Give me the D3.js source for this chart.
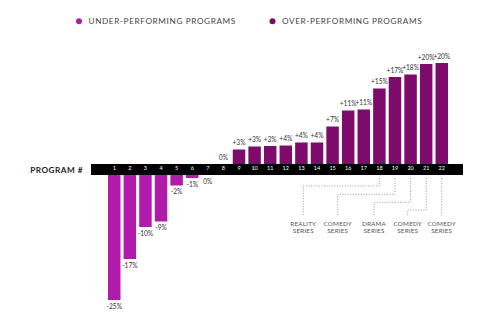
<!DOCTYPE html>
<html><head><meta charset="utf-8">
<script src="https://cdn.jsdelivr.net/npm/d3@7"></script>
<style>body{margin:0;background:#fff}svg{display:block}text{font-family:Lato,"Open Sans",sans-serif;-webkit-font-smoothing:antialiased}</style>
</head><body><svg id="c" width="500" height="330"></svg>
<script>
const programs = ["1","2","3","4","5","6","7","8","9","10","11","12","13","14","15","16","17","18","19","20","21","22"];
const values = [-25,-16.8,-10.4,-9.3,-2.1,-0.6,0,0,2.9,3.5,3.6,3.7,4.3,4.3,7.5,10.7,10.9,15.1,17.4,17.9,20,20.2];
const valueLabels = ["-25%","-17%","-10%","-9%","-2%","-1%","0%","0%","+3%","+3%","+3%","+4%","+4%","+4%","+7%","+11%","+11%","+15%","+17%","+18%","+20%","+20%"];
const groups = ["under","under","under","under","under","under","under","over","over","over","over","over","over","over","over","over","over","over","over","over","over","over"];
const legendLabels = ["UNDER-PERFORMING PROGRAMS","OVER-PERFORMING PROGRAMS"];
const seriesNames = [["REALITY","SERIES"],["COMEDY","SERIES"],["DRAMA","SERIES"],["COMEDY","SERIES"],["COMEDY","SERIES"]];
const seriesPrograms = ["18","19","20","21","22"];
const axisTitle = "PROGRAM #";

const colors = {under:"#b11ba9", over:"#7d0b6b"};
const svg = d3.select("#c");

const x = d3.scaleBand().domain(programs).range([108,448]).paddingInner(0.2).paddingOuter(0);
const yPos = d3.scaleLinear().domain([0,20]).range([164,64]);
const yNeg = d3.scaleLinear().domain([0,-25]).range([175,300]);

// legend
const leg = svg.append("g");
const legX = [79, 272.5];
legendLabels.forEach((l,i)=>{
  leg.append("circle").attr("cx",legX[i]).attr("cy",21.3).attr("r",3).attr("fill",colors[i===0?"under":"over"]);
  leg.append("text").attr("x",legX[i]+9.5).attr("y",24.3).attr("font-size",8.2).attr("letter-spacing",0.62)
    .attr("fill","#444").text(l);
});

// bars
const data = programs.map((p,i)=>({p,v:values[i],lab:valueLabels[i],g:groups[i]}));
svg.append("g").selectAll("rect").data(data.filter(d=>d.v!==0)).join("rect")
  .attr("x",d=>x(d.p)).attr("width",x.bandwidth())
  .attr("y",d=>d.v>0?yPos(d.v):yNeg(0))
  .attr("height",d=>d.v>0?yPos(0)-yPos(d.v):yNeg(d.v)-yNeg(0))
  .attr("fill",d=>colors[d.g]);

// value labels
svg.append("g").selectAll("text").data(data).join("text")
  .attr("x",d=>x(d.p)+x.bandwidth()/2)
  .attr("y",d=>d.g==="over"?yPos(Math.max(d.v,0))-4.5:yNeg(Math.min(d.v,0))+8.5)
  .attr("text-anchor","middle").attr("font-size",6.6).attr("fill","#333").text(d=>d.lab);

// black band axis
svg.append("rect").attr("x",91).attr("y",164).attr("width",372).attr("height",11).attr("fill","#000");
const ax = svg.append("g").attr("transform","translate(0,164)").call(d3.axisBottom(x).tickSize(0).tickPadding(2));
ax.select(".domain").remove();
ax.selectAll("text").attr("fill","#fff").attr("font-size",5.5).attr("font-family","Lato,sans-serif");

svg.append("text").attr("x",83).attr("y",172.8).attr("text-anchor","end").attr("font-size",8.2)
  .attr("font-weight","bold").attr("letter-spacing",0.5).attr("fill","#222").text(axisTitle);

// annotation dotted paths
const labelX = [303.3,337.7,374,407.7,441.7];
const turnY = [186,194.3,202.3,210,null];
const ann = svg.append("g");
seriesPrograms.forEach((p,i)=>{
  const cx = x(p)+x.bandwidth()/2;
  let pts = [[cx,178]];
  if(turnY[i]!==null){ pts.push([cx,turnY[i]]); pts.push([labelX[i],turnY[i]]); }
  pts.push([labelX[i],216]);
  ann.append("path").attr("d",d3.line()(pts)).attr("fill","none").attr("stroke","#999")
    .attr("stroke-width",1).attr("stroke-dasharray","1,1.6");
  seriesNames[i].forEach((t,j)=>{
    ann.append("text").attr("x",labelX[i]).attr("y",225.5+j*7.5).attr("text-anchor","middle")
      .attr("font-size",6.3).attr("letter-spacing",0.2).attr("fill","#555").text(t);
  });
});
</script></body></html>
